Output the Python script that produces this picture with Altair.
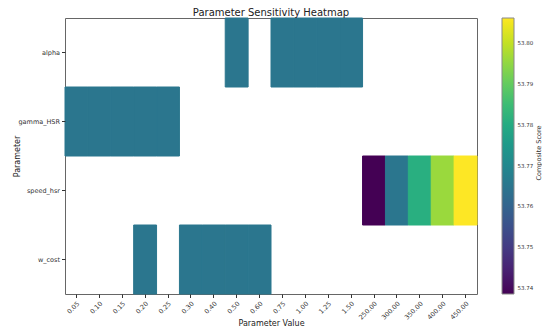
import altair as alt
import pandas as pd

x_order = ["0.05", "0.10", "0.15", "0.20", "0.25", "0.30", "0.40", "0.50", "0.60",
           "0.75", "1.00", "1.25", "1.50", "250.00", "300.00", "350.00", "400.00", "450.00"]
y_order = ["alpha", "gamma_HSR", "speed_hsr", "w_cost"]

alpha_x = ["0.50", "0.75", "1.00", "1.25", "1.50"]
alpha_v = [53.765, 53.765, 53.765, 53.765, 53.765]
gamma_x = ["0.05", "0.10", "0.15", "0.20", "0.25"]
gamma_v = [53.765, 53.765, 53.765, 53.765, 53.765]
speed_x = ["250.00", "300.00", "350.00", "400.00", "450.00"]
speed_v = [53.7385, 53.765, 53.781, 53.796, 53.8062]
wcost_x = ["0.20", "0.30", "0.40", "0.50", "0.60"]
wcost_v = [53.765, 53.765, 53.765, 53.765, 53.765]

legend_ticks = [53.74, 53.75, 53.76, 53.77, 53.78, 53.79, 53.80]

rows = []
for name, xs, vs in [("alpha", alpha_x, alpha_v), ("gamma_HSR", gamma_x, gamma_v),
                     ("speed_hsr", speed_x, speed_v), ("w_cost", wcost_x, wcost_v)]:
    for xv, v in zip(xs, vs):
        rows.append({"Parameter": name, "Value": xv, "Score": v, "Edge": v})
df = pd.DataFrame(rows)

FONT = "DejaVu Sans"
W, H = 412, 276

heat = alt.Chart(df).mark_rect(strokeWidth=1).encode(
    x=alt.X("Value:O", sort=x_order, scale=alt.Scale(domain=x_order, paddingInner=0, paddingOuter=0),
            axis=alt.Axis(title="Parameter Value", labelAngle=-45, labelFontSize=6.5,
                          labelPadding=2.5, titleFontSize=8, titleFontWeight="normal", titleY=31,
                          titleBaseline="alphabetic", domain=False, tickSize=3.5,
                          tickColor="#333", labelColor="#333", titleColor="#222")),
    y=alt.Y("Parameter:N", sort=y_order, scale=alt.Scale(domain=y_order, paddingInner=0, paddingOuter=0),
            axis=alt.Axis(title="Parameter", labelFontSize=6.5, titleFontSize=8,
                          titleFontWeight="normal", titleX=-48, titleBaseline="middle",
                          domain=False, tickSize=3.5, tickColor="#333", labelColor="#333",
                          titleColor="#222")),
    color=alt.Color("Score:Q", scale=alt.Scale(scheme="viridis", zero=False, nice=False),
                    legend=alt.Legend(type="gradient", title=None, orient="none", legendX=437,
                                      legendY=0, direction="vertical", gradientLength=H,
                                      gradientThickness=12, values=legend_ticks,
                                      format=".2f", labelFontSize=5.5, labelOffset=3.5,
                                      gradientStrokeColor="#888", gradientStrokeWidth=1,
                                      labelColor="#333")),
    stroke=alt.Stroke("Edge:Q", scale=alt.Scale(scheme="viridis", zero=False, nice=False),
                      legend=None),
)

cbar_title = alt.Chart(pd.DataFrame({"t": ["Composite Score"]})).mark_text(
    angle=270, fontSize=6.5, color="#333", baseline="middle", align="center"
).encode(text="t:N", x=alt.value(474), y=alt.value(H / 2 - 3))

chart = alt.layer(heat, cbar_title).properties(
    width=W, height=H,
    title=alt.Title("Parameter Sensitivity Heatmap", fontSize=10, fontWeight="normal",
                    font=FONT, color="#222", offset=0),
    autosize=alt.AutoSizeParams(type="none"),
    padding={"left": 57, "top": 10, "right": 65, "bottom": 32},
).configure(font=FONT).configure_view(stroke="#666", strokeWidth=1)

chart.save("out.html", embed_options={"renderer": "svg", "actions": False})
